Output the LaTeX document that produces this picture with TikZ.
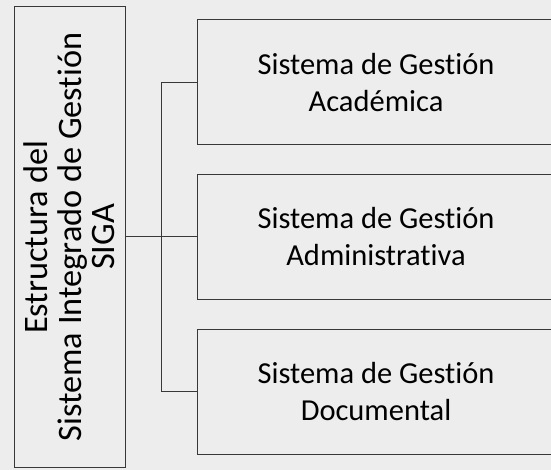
\documentclass[tikz,border=0pt]{standalone}
\usepackage{fontspec}
\setmainfont{Carlito}[Ligatures=NoCommon]
\usepackage{tikz}

\begin{document}
\begin{tikzpicture}[x=1pt,y=1pt]
\tikzstyle{every node}=[draw=black!78, line width=1pt, inner sep=0pt, align=center]
\tikzstyle{sgbox}=[minimum width=358, minimum height=125, font=\fontsize{30.5}{37}\selectfont]
\fill[black!7] (0,0) rectangle (551,470);
\clip (0,0) rectangle (551,470);
\draw (69.5,233) node (siga) [rotate=90, minimum width=461, minimum height=111,
  font=\fontsize{34.3}{33.5}\selectfont] {Estructura del\\Sistema Integrado de Gestión\\SIGA};
\draw (376,387.5) node (acad) [sgbox] {Sistema de Gestión\\Académica};
\draw (376,233) node (admin) [sgbox] {Sistema de Gestión\\Administrativa};
\draw (376,78) node (docu) [sgbox] {Sistema de Gestión\\Documental};
\coordinate (bus) at (161,233);
\draw[black!78, line width=1pt] (siga.south) -- (admin.west);
\draw[black!78, line width=1pt] (acad.west) -- (acad.west -| bus) -- (docu.west -| bus) -- (docu.west);
\end{tikzpicture}
\end{document}
